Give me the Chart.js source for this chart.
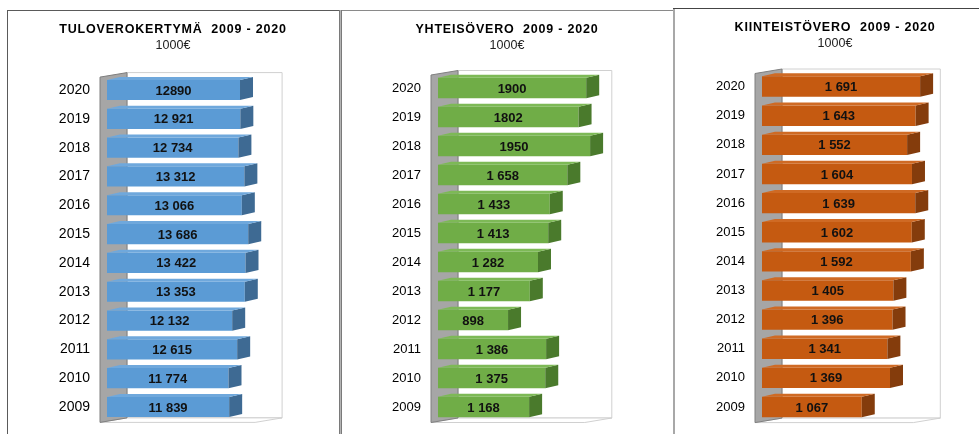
<!DOCTYPE html>
<html>
<head>
<meta charset="utf-8">
<script src="https://cdn.jsdelivr.net/npm/chart.js@4.4.0/dist/chart.umd.min.js"></script>
<style>
  body { margin: 0; background: #fff; }
  #page { position: relative; width: 979px; height: 434px; overflow: hidden; }
  canvas { position: absolute; top: 0; }
  .ln { position: absolute; }
</style>
</head>
<body>
<div id="page">
  <div class="ln" style="left:7px;top:10px;width:333px;height:1px;background:#5a5a5a"></div>
  <div class="ln" style="left:7px;top:10px;width:1px;height:424px;background:#5a5a5a"></div>
  <div class="ln" style="left:339px;top:10px;width:1px;height:424px;background:#7a7a7a"></div>
  <div class="ln" style="left:340px;top:10px;width:1px;height:424px;background:#b4b4b4"></div>
  <div class="ln" style="left:341px;top:10px;width:1px;height:424px;background:#7a7a7a"></div>
  <div class="ln" style="left:342px;top:10px;width:332px;height:1px;background:#8a8a8a"></div>
  <div class="ln" style="left:673px;top:8px;width:2px;height:426px;background:#a8a8a8"></div>
  <div class="ln" style="left:673px;top:8px;width:306px;height:1px;background:#444"></div>
  <canvas id="c1" width="331" height="434" style="left:8px"></canvas>
  <canvas id="c2" width="331" height="434" style="left:342px"></canvas>
  <canvas id="c3" width="304" height="434" style="left:675px"></canvas>
</div>
<script>
const years = ["2020", "2019", "2018", "2017", "2016", "2015", "2014", "2013", "2012", "2011", "2010", "2009"];

const tulovero = [12890, 12921, 12734, 13312, 13066, 13686, 13422, 13353, 12132, 12615, 11774, 11839];
const tuloveroText = ["12890", "12 921", "12 734", "13 312", "13 066", "13 686", "13 422", "13 353", "12 132", "12 615", "11 774", "11 839"];

const yhteisovero = [1900, 1802, 1950, 1658, 1433, 1413, 1282, 1177, 898, 1386, 1375, 1168];
const yhteisoveroText = ["1900", "1802", "1950", "1 658", "1 433", "1 413", "1 282", "1 177", "898", "1 386", "1 375", "1 168"];

const kiinteistovero = [1691, 1643, 1552, 1604, 1639, 1602, 1592, 1405, 1396, 1341, 1369, 1067];
const kiinteistoveroText = ["1 691", "1 643", "1 552", "1 604", "1 639", "1 602", "1 592", "1 405", "1 396", "1 341", "1 369", "1 067"];

const FONT = "'Liberation Sans', Arial, sans-serif";

function poly(ctx, pts, fill, stroke) {
  ctx.beginPath();
  ctx.moveTo(pts[0][0], pts[0][1]);
  for (let i = 1; i < pts.length; i++) ctx.lineTo(pts[i][0], pts[i][1]);
  ctx.closePath();
  if (fill) { ctx.fillStyle = fill; ctx.fill(); }
  if (stroke) { ctx.strokeStyle = stroke; ctx.lineWidth = 1; ctx.stroke(); }
}

// fake excel style 3d: walls behind, side + top faces and labels on bars, titles
const box3d = {
  id: "box3d",
  beforeDatasetsDraw(chart) {
    const ctx = chart.ctx, a = chart.chartArea;
    const fx = a.left - 7, dx = 27, dy = 4.5;
    const top = a.top + 1.5, bot = a.bottom + 1;
    const backR = a.right + 10;
    ctx.save();
    // back wall
    poly(ctx, [[fx + dx, top - dy], [backR, top - dy], [backR, bot - dy], [fx + dx, bot - dy]], "#fff", "#d0d0d0");
    // floor
    poly(ctx, [[fx, bot], [backR - dx, bot], [backR, bot - dy], [fx + dx, bot - dy]], "#fff", "#d0d0d0");
    // left wall
    poly(ctx, [[fx, top], [fx + dx, top - dy], [fx + dx, bot - dy], [fx, bot]], "#a6a6a6", "#7f7f7f");
    ctx.restore();
  },
  afterDatasetsDraw(chart, args, opts) {
    const ctx = chart.ctx;
    const meta = chart.getDatasetMeta(0);
    ctx.save();
    meta.data.forEach((bar, i) => {
      const p = bar.getProps(["x", "y", "base", "height"], true);
      const t = p.y - p.height / 2, b = p.y + p.height / 2;
      poly(ctx, [[p.x, t], [p.x + 13, t - 3], [p.x + 13, b - 3], [p.x, b]], opts.side);
      poly(ctx, [[p.base, t], [p.base + 13, t - 3], [p.x + 13, t - 3], [p.x, t]], opts.top);
      ctx.fillStyle = "#111";
      ctx.font = "bold 13px " + FONT;
      ctx.textAlign = "center";
      ctx.textBaseline = "middle";
      ctx.fillText(opts.texts[i], (p.base + p.x) / 2, p.y + 1);
    });
    ctx.restore();
  },
  afterDraw(chart, args, opts) {
    const ctx = chart.ctx;
    ctx.save();
    ctx.textAlign = "center";
    ctx.textBaseline = "middle";
    ctx.fillStyle = "#000";
    ctx.font = "bold 12.5px " + FONT;
    ctx.letterSpacing = "0.8px";
    ctx.fillText(opts.title, opts.titleX, opts.titleY);
    ctx.letterSpacing = "0px";
    ctx.fillStyle = "#222";
    ctx.font = "12.5px " + FONT;
    ctx.fillText("1000€", opts.titleX, opts.titleY + 16);
    ctx.restore();
  }
};

function panel(id, cfg) {
  const yW = cfg.areaL - cfg.left;
  const padR = cfg.left + cfg.width - cfg.areaR;

  new Chart(document.getElementById(id), {
    type: "bar",
    data: {
      labels: years,
      datasets: [{
        data: cfg.values,
        backgroundColor: cfg.front,
        borderWidth: 0,
        barPercentage: 0.7,
        categoryPercentage: 1.0
      }]
    },
    options: {
      indexAxis: "y",
      responsive: false,
      animation: false,
      layout: { padding: { left: 0, right: padR, top: cfg.areaTop, bottom: 434 - cfg.areaBottom } },
      scales: {
        x: { display: false, min: 0, max: cfg.max },
        y: {
          grid: { display: false, drawTicks: false },
          border: { display: false },
          ticks: { color: "#000", padding: 17, font: { family: FONT, size: cfg.yearSize } },
          afterFit: (s) => { s.width = yW; s.paddingTop = 0; s.paddingBottom = 0; }
        }
      },
      plugins: {
        legend: { display: false },
        tooltip: { enabled: false },
        box3d: {
          side: cfg.side, top: cfg.topFace, texts: cfg.texts,
          title: cfg.title, titleX: cfg.titleX - cfg.left, titleY: cfg.titleY
        }
      }
    },
    plugins: [box3d]
  });
}

panel("c1", {
  title: "TULOVEROKERTYMÄ  2009 - 2020", values: tulovero, texts: tuloveroText, max: 16000,
  left: 8, width: 331, areaL: 107, areaR: 272.1, titleX: 173, titleY: 30,
  areaTop: 75.6, areaBottom: 421.4, yearSize: 14,
  front: "#5b9bd5", side: "#3e6a93", topFace: "#6fa8dc"
});
panel("c2", {
  title: "YHTEISÖVERO  2009 - 2020", values: yhteisovero, texts: yhteisoveroText, max: 2100,
  left: 342, width: 331, areaL: 438, areaR: 601.8, titleX: 507, titleY: 30,
  areaTop: 73.5, areaBottom: 421.5, yearSize: 13,
  front: "#70ad47", side: "#4a7a2c", topFace: "#7db956"
});
panel("c3", {
  title: "KIINTEISTÖVERO  2009 - 2020", values: kiinteistovero, texts: kiinteistoveroText, max: 1800,
  left: 675, width: 304, areaL: 762, areaR: 930.3, titleX: 835, titleY: 28,
  areaTop: 72, areaBottom: 421.6, yearSize: 13,
  front: "#c55a11", side: "#843c0c", topFace: "#cf6a24"
});
</script>
</body>
</html>
